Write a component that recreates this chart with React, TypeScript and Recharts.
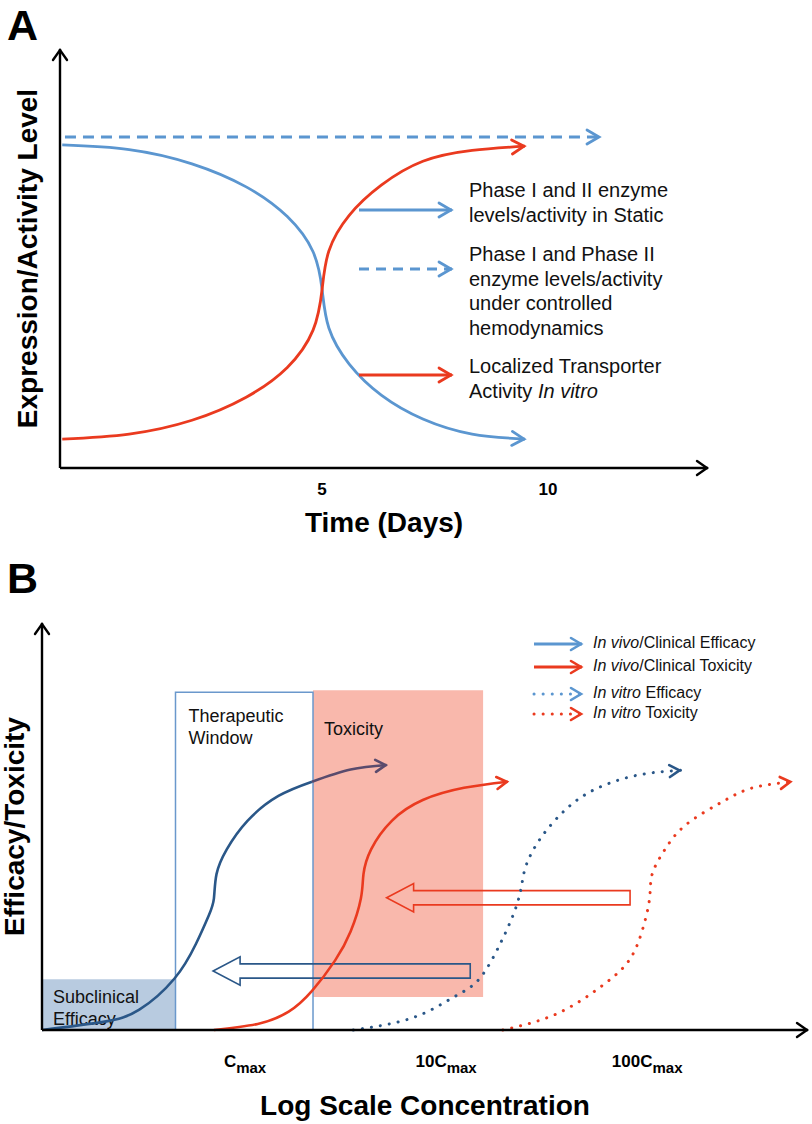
import React from 'react';
import { ComposedChart, Line, XAxis, YAxis, ReferenceArea, Legend } from 'recharts';

const FONT = '"Liberation Sans", Arial, Helvetica, sans-serif';

const BLUE = '#5b96d0';
const RED = '#ea3a1f';
const NAVY = '#2a5788';
const PLUM = '#5a4b6d';

// ---------- Panel A: time (days) vs expression / activity (0-100) ----------
const timeTicks = [5, 10];

const staticEnzyme = [
  { x: -0.75, y: 77.1 }, { x: 0.73, y: 76.0 }, { x: 2.12, y: 72.6 }, { x: 3.32, y: 67.1 },
  { x: 4.23, y: 60.0 }, { x: 4.8, y: 51.6 }, { x: 5.0, y: 42.6 }, { x: 5.15, y: 33.4 },
  { x: 5.6, y: 24.8 }, { x: 6.31, y: 17.4 }, { x: 7.23, y: 11.7 }, { x: 8.32, y: 8.1 },
  { x: 9.49, y: 6.9 },
];

const transporter = [
  { x: -0.75, y: 6.9 }, { x: 0.73, y: 8.1 }, { x: 2.12, y: 11.4 }, { x: 3.32, y: 16.9 },
  { x: 4.23, y: 24.0 }, { x: 4.8, y: 32.9 }, { x: 5.0, y: 42.6 }, { x: 5.15, y: 51.8 },
  { x: 5.6, y: 60.3 }, { x: 6.31, y: 67.5 }, { x: 7.23, y: 73.2 }, { x: 8.32, y: 75.8 },
  { x: 9.49, y: 76.8 },
];

const flowEnzyme = [{ x: -0.69, y: 79.0 }, { x: 11.15, y: 79.0 }];

const legendALabels = [
  ['Phase I and II enzyme', 'levels/activity in Static'],
  ['Phase I and Phase II', 'enzyme levels/activity', 'under controlled', 'hemodynamics'],
  ['Localized Transporter', 'Activity *In vitro*'],
];

// ---------- Panel B: log10(C / Cmax) vs efficacy / toxicity (0-100) ----------
const concTicks = [0, 1, 2];
const concTickPrefix = ['', '10', '100'];

const vivoEfficacy = [
  { x: -1.01, y: 0 }, { x: -0.706, y: 2.0 }, { x: -0.526, y: 5.0 }, { x: -0.352, y: 12.6 },
  { x: -0.244, y: 21.2 }, { x: -0.18, y: 28.2 }, { x: -0.155, y: 32.3 }, { x: -0.142, y: 38.3 },
  { x: -0.091, y: 44.4 }, { x: 0.012, y: 51.4 }, { x: 0.166, y: 57.5 }, { x: 0.333, y: 61.0 },
];
const vivoEfficacyTail = [{ x: 0.333, y: 61.0 }, { x: 0.525, y: 64.0 }, { x: 0.704, y: 65.1 }];

const vivoToxicity = [
  { x: -0.155, y: 0 }, { x: 0.063, y: 1.5 }, { x: 0.217, y: 4.5 }, { x: 0.333, y: 9.6 },
  { x: 0.448, y: 17.1 }, { x: 0.525, y: 24.2 }, { x: 0.576, y: 32.3 }, { x: 0.589, y: 38.3 },
  { x: 0.627, y: 44.4 }, { x: 0.73, y: 51.4 }, { x: 0.884, y: 56.5 }, { x: 1.089, y: 59.5 },
  { x: 1.307, y: 61.0 },
];

const vitroEfficacy = [
  { x: 0.538, y: 0 }, { x: 0.833, y: 3.0 }, { x: 1.038, y: 8.1 }, { x: 1.166, y: 12.6 },
  { x: 1.269, y: 21.2 }, { x: 1.333, y: 28.2 }, { x: 1.371, y: 34.3 }, { x: 1.397, y: 40.3 },
  { x: 1.474, y: 47.4 }, { x: 1.602, y: 54.5 }, { x: 1.756, y: 59.5 }, { x: 1.961, y: 62.7 },
  { x: 2.166, y: 63.8 },
];

const vitroToxicity = [
  { x: 1.282, y: 0 }, { x: 1.551, y: 4.0 }, { x: 1.782, y: 11.1 }, { x: 1.91, y: 17.1 },
  { x: 1.974, y: 24.2 }, { x: 2.012, y: 32.3 }, { x: 2.025, y: 38.3 }, { x: 2.089, y: 44.4 },
  { x: 2.192, y: 50.4 }, { x: 2.371, y: 56.0 }, { x: 2.525, y: 59.5 }, { x: 2.717, y: 61.0 },
];

// regions (x in log units, y in %)
const subclinical = { x1: -1.01, x2: -0.346, y1: 0, y2: 12.5 };
const therapeutic = { x1: -0.346, x2: 0.338, y1: 0, y2: 83.0 };
const toxicZone = { x1: 0.338, x2: 1.184, y1: 8.1, y2: 83.5 };
// the two "shift" arrows (tip on the left)
const toxShift = { x1: 0.704, x2: 1.915, y1: 29.0, y2: 36.0 };
const effShift = { x1: -0.159, x2: 1.12, y1: 11.0, y2: 18.0 };

const legendBLabels = [
  '*In vivo*/Clinical Efficacy',
  '*In vivo*/Clinical Toxicity',
  '*In vitro* Efficacy',
  '*In vitro* Toxicity',
];

const xAxisLine = { stroke: '#000', strokeWidth: 2.4, markerEnd: 'url(#head-axis)' };
const yAxisLine = { stroke: '#000', strokeWidth: 2.4, markerStart: 'url(#head-axis)' };
const titleStyle = { fontFamily: FONT, fontSize: 28, fontWeight: 'bold', fill: '#000' };

// *text* -> italic
function rich(s: string) {
  return s.split('*').map((part, i) => (
    <tspan key={i} fontStyle={i % 2 ? 'italic' : 'normal'}>{part}</tspan>
  ));
}

function Head({ id, color, len, half, width }: any) {
  return (
    <marker
      id={id}
      markerUnits="userSpaceOnUse"
      markerWidth={len + 6}
      markerHeight={half * 2 + 6}
      viewBox={`${-len - 4} ${-half - 3} ${len + 6} ${half * 2 + 6}`}
      refX={0}
      refY={0}
      orient="auto-start-reverse"
      overflow="visible"
    >
      <path
        d={`M${-len - 1},${-half} L-1,0 L${-len - 1},${half}`}
        fill="none"
        stroke={color}
        strokeWidth={width}
        strokeLinecap="round"
      />
    </marker>
  );
}

function Markers() {
  return (
    <svg width={0} height={0} style={{ position: 'absolute' }}>
      <defs>
        <Head id="head-axis" color="#000" len={10} half={7} width={2.4} />
        <Head id="head-a-blue" color={BLUE} len={12} half={7} width={2.8} />
        <Head id="head-a-red" color={RED} len={12} half={7} width={2.8} />
        <Head id="head-b-navy" color={NAVY} len={10} half={6} width={2.6} />
        <Head id="head-b-plum" color={PLUM} len={10} half={6} width={2.6} />
        <Head id="head-b-red" color={RED} len={10} half={6} width={2.6} />
        <Head id="head-b-blue" color={BLUE} len={10} half={6} width={2.6} />
      </defs>
    </svg>
  );
}

function TimeTick({ x, y, payload }: any) {
  return (
    <text x={x} y={y + 27} textAnchor="middle" fontFamily={FONT} fontSize={17} fontWeight="bold" fill="#000">
      {payload.value}
    </text>
  );
}

function ConcTick({ x, y, payload }: any) {
  const prefix = concTickPrefix[concTicks.indexOf(payload.value)];
  return (
    <text x={x} y={y + 37} textAnchor="middle" fontFamily={FONT} fontSize={17} fontWeight="bold" fill="#000">
      {prefix}C
      <tspan fontSize={15} dy={6}>max</tspan>
    </text>
  );
}

function RegionLabel({ viewBox, lines, dx, dy }: any) {
  const { x, y } = viewBox;
  return (
    <text x={x + dx} y={y + dy} fontFamily={FONT} fontSize={18} fill="#111">
      {lines.map((t: string, i: number) => (
        <tspan key={i} x={x + dx} dy={i ? 22 : 0}>{t}</tspan>
      ))}
    </text>
  );
}

function HollowArrow({ x, y, width, height, stroke }: any) {
  const cy = y + height / 2;
  const head = 27;
  const shaft = height * 0.25;
  const pts = [
    [x, cy], [x + head, y], [x + head, cy - shaft], [x + width, cy - shaft],
    [x + width, cy + shaft], [x + head, cy + shaft], [x + head, y + height],
  ];
  return <polygon points={pts.map((p) => p.join(',')).join(' ')} fill="none" stroke={stroke} strokeWidth={1.6} />;
}

const legendAStyle = [
  { color: BLUE, dash: undefined, head: 'head-a-blue', arrowY: 35, textY: 22 },
  { color: BLUE, dash: '10 7', head: 'head-a-blue', arrowY: 94, textY: 86 },
  { color: RED, dash: undefined, head: 'head-a-red', arrowY: 200, textY: 198 },
];

function LegendA() {
  return (
    <svg width={345} height={235} style={{ overflow: 'visible', display: 'block' }}>
      {legendALabels.map((lines, i) => {
        const s = legendAStyle[i];
        return (
          <g key={i}>
            <line x1={4} x2={97} y1={s.arrowY} y2={s.arrowY} stroke={s.color} strokeWidth={3}
              strokeDasharray={s.dash} markerEnd={`url(#${s.head})`} />
            <text x={114} y={s.textY} fontFamily={FONT} fontSize={20} fill="#111">
              {lines.map((t, j) => (
                <tspan key={j} x={114} dy={j ? 24.5 : 0}>{rich(t)}</tspan>
              ))}
            </text>
          </g>
        );
      })}
    </svg>
  );
}

const legendBStyle = [
  { color: BLUE, dash: undefined, head: 'head-b-blue', y: 19 },
  { color: RED, dash: undefined, head: 'head-b-red', y: 42 },
  { color: BLUE, dash: '0.1 9', head: 'head-b-blue', y: 69 },
  { color: RED, dash: '0.1 9', head: 'head-b-red', y: 89 },
];

function LegendB() {
  return (
    <svg width={290} height={105} style={{ overflow: 'visible', display: 'block' }}>
      {legendBLabels.map((label, i) => {
        const s = legendBStyle[i];
        return (
          <g key={i}>
            <line x1={14} x2={62} y1={s.y} y2={s.y} stroke={s.color} strokeWidth={3}
              strokeDasharray={s.dash} strokeLinecap={s.dash ? 'round' : 'butt'} markerEnd={`url(#${s.head})`} />
            <text x={73} y={s.y + 4} fontFamily={FONT} fontSize={16} fill="#111">{rich(label)}</text>
          </g>
        );
      })}
    </svg>
  );
}

function PanelA() {
  return (
    <ComposedChart width={812} height={545} margin={{ top: 49, right: 104, bottom: 0, left: 0 }}>
      <XAxis type="number" dataKey="x" domain={[-0.8, 13.54]} ticks={timeTicks} tick={<TimeTick />}
        tickLine={false} tickSize={0} tickMargin={0} axisLine={xAxisLine} height={77}
        label={{ value: 'Time (Days)', position: 'insideBottom', offset: 13, style: titleStyle }} />
      <YAxis type="number" domain={[0, 100]} tick={false} tickLine={false} axisLine={yAxisLine} width={60}
        label={{ value: 'Expression/Activity Level', angle: -90, position: 'insideLeft', offset: 27,
          style: { ...titleStyle, textAnchor: 'middle' } }} />
      <Legend layout="horizontal" verticalAlign="middle" align="center"
        wrapperStyle={{ top: 175, left: 355, width: 345 }} content={() => <LegendA />} />
      <Line data={flowEnzyme} dataKey="y" type="linear" stroke={BLUE} strokeWidth={2.8} strokeDasharray="11 7"
        dot={false} activeDot={false} markerEnd="url(#head-a-blue)" isAnimationActive={false} />
      <Line data={staticEnzyme} dataKey="y" type="natural" stroke={BLUE} strokeWidth={2.8}
        dot={false} activeDot={false} markerEnd="url(#head-a-blue)" isAnimationActive={false} />
      <Line data={transporter} dataKey="y" type="natural" stroke={RED} strokeWidth={2.8}
        dot={false} activeDot={false} markerEnd="url(#head-a-red)" isAnimationActive={false} />
    </ComposedChart>
  );
}

function PanelB() {
  return (
    <ComposedChart width={812} height={564} margin={{ top: 63, right: 4, bottom: 0, left: 0 }}>
      <XAxis type="number" dataKey="x" domain={[-1.01, 2.8]} ticks={concTicks} tick={<ConcTick />}
        tickLine={false} tickSize={0} tickMargin={0} axisLine={xAxisLine} height={94}
        label={{ value: 'Log Scale Concentration', position: 'insideBottom', offset: 9, style: titleStyle }} />
      <YAxis type="number" domain={[0, 100]} tick={false} tickLine={false} axisLine={yAxisLine} width={42}
        label={{ value: 'Efficacy/Toxicity', angle: -90, position: 'insideLeft', offset: 14,
          style: { ...titleStyle, textAnchor: 'middle' } }} />
      <ReferenceArea {...subclinical} fill="#b8cbe0" fillOpacity={1} stroke="none" ifOverflow="visible"
        label={<RegionLabel lines={['Subclinical', 'Efficacy']} dx={11} dy={24} />} />
      <ReferenceArea {...toxicZone} fill="#f9b8ac" fillOpacity={1} stroke="none" ifOverflow="visible"
        label={<RegionLabel lines={['Toxicity']} dx={11} dy={45} />} />
      <ReferenceArea {...therapeutic} fill="none" stroke="#6a98cc" strokeWidth={1.5} ifOverflow="visible"
        label={<RegionLabel lines={['Therapeutic', 'Window']} dx={13} dy={30} />} />
      <ReferenceArea {...toxShift} stroke={RED} ifOverflow="visible" shape={HollowArrow} />
      <ReferenceArea {...effShift} stroke={NAVY} ifOverflow="visible" shape={HollowArrow} />
      <Legend layout="horizontal" verticalAlign="middle" align="center"
        wrapperStyle={{ top: 65, left: 520, width: 290 }} content={() => <LegendB />} />
      <Line data={vivoEfficacy} dataKey="y" type="natural" stroke={NAVY} strokeWidth={2.6}
        dot={false} activeDot={false} isAnimationActive={false} />
      <Line data={vivoEfficacyTail} dataKey="y" type="natural" stroke={PLUM} strokeWidth={2.6}
        dot={false} activeDot={false} markerEnd="url(#head-b-plum)" isAnimationActive={false} />
      <Line data={vivoToxicity} dataKey="y" type="natural" stroke={RED} strokeWidth={2.6}
        dot={false} activeDot={false} markerEnd="url(#head-b-red)" isAnimationActive={false} />
      <Line data={vitroEfficacy} dataKey="y" type="natural" stroke={NAVY} strokeWidth={3}
        strokeDasharray="0.1 9" strokeLinecap="round" dot={false} activeDot={false}
        markerEnd="url(#head-b-navy)" isAnimationActive={false} />
      <Line data={vitroToxicity} dataKey="y" type="natural" stroke={RED} strokeWidth={3}
        strokeDasharray="0.1 9" strokeLinecap="round" dot={false} activeDot={false}
        markerEnd="url(#head-b-red)" isAnimationActive={false} />
    </ComposedChart>
  );
}

const letterStyle: React.CSSProperties = {
  position: 'absolute', left: 7, fontFamily: FONT, fontWeight: 'bold', fontSize: 43, lineHeight: '43px',
};

export default function App() {
  return (
    <div style={{ position: 'absolute', left: 0, top: 0, width: 812, height: 1124, background: '#fff', overflow: 'hidden' }}>
      <Markers />
      <div style={{ ...letterStyle, top: 4 }}>A</div>
      <div style={{ position: 'absolute', left: 0, top: 0 }}>
        <PanelA />
      </div>
      <div style={{ ...letterStyle, top: 557 }}>B</div>
      <div style={{ position: 'absolute', left: 0, top: 560 }}>
        <PanelB />
      </div>
    </div>
  );
}
